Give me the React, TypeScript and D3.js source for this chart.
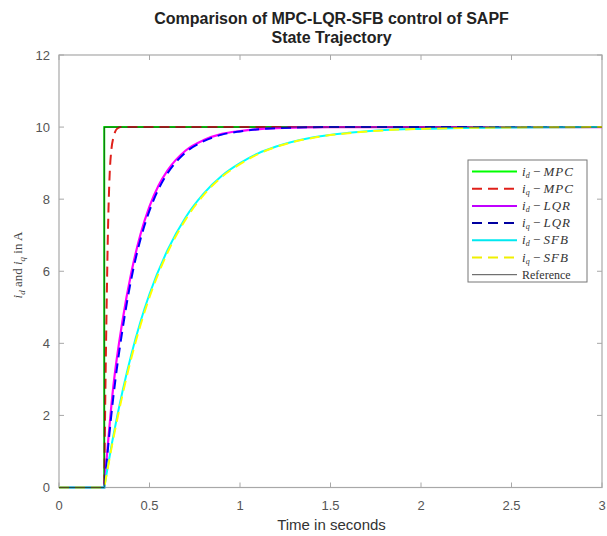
import React from "react";
import * as d3 from "d3";

// ---- data ----
const xTickVals = [0, 0.5, 1, 1.5, 2, 2.5, 3];
const xTickLabels = ["0", "0.5", "1", "1.5", "2", "2.5", "3"];
const yTickVals = [0, 2, 4, 6, 8, 10, 12];
const yTickLabels = ["0", "2", "4", "6", "8", "10", "12"];

const tStep = [0, 0.25, 0.25, 3];
const idMPC = [0, 0, 10, 10];
const refVals = [0, 0, 10, 10];

const tIqMPC = [0, 0.25, 0.255, 0.26, 0.265, 0.27, 0.275, 0.28, 0.29, 0.3, 0.31, 0.32, 0.34, 3];
const iqMPC = [0, 0, 2.2, 4.0, 5.6, 7.0, 8.0, 8.7, 9.4, 9.7, 9.87, 9.95, 10, 10];

const tLQR = [0, 0.25, 0.3, 0.35, 0.4, 0.45, 0.5, 0.55, 0.6, 0.7, 0.8, 0.9, 1.0, 1.2, 1.5, 3];
const idLQR = [0, 0, 2.8, 4.6, 5.97, 7.02, 7.8, 8.38, 8.8, 9.35, 9.64, 9.81, 9.89, 9.97, 10, 10];
const iqLQR = [0, 0, 2.5, 4.35, 5.8, 6.88, 7.68, 8.28, 8.72, 9.3, 9.61, 9.79, 9.88, 9.97, 10, 10];

const tSFB = [0, 0.25, 0.3, 0.35, 0.4, 0.45, 0.5, 0.6, 0.7, 0.8, 0.9, 1.0, 1.1, 1.2, 1.4, 1.6, 1.8, 2.0, 2.5, 3];
const idSFB = [0, 0, 1.43, 2.65, 3.7, 4.6, 5.37, 6.59, 7.5, 8.16, 8.65, 9.0, 9.27, 9.46, 9.71, 9.84, 9.92, 9.95, 9.99, 10];
const iqSFB = [0, 0, 1.35, 2.55, 3.6, 4.5, 5.28, 6.52, 7.44, 8.12, 8.62, 8.97, 9.25, 9.45, 9.7, 9.83, 9.91, 9.95, 9.99, 10];

const titleLines = ["Comparison of MPC-LQR-SFB control of SAPF", "State Trajectory"];

const L = 59, R = 602, T = 55, B = 487.5;

const x = d3.scaleLinear().domain([0, 3]).range([L, R]);
const y = d3.scaleLinear().domain([0, 12]).range([B, T]);

function pathFor(ts: number[], vs: number[], smooth: boolean): string {
  const pts: [number, number][] = ts.map((t, i) => [x(t), y(vs[i])]);
  if (!smooth) return d3.line()(pts) || "";
  const rise = pts.slice(1);
  const rp = d3.line().curve(d3.curveMonotoneX)(rise) || "";
  return `M${pts[0][0]},${pts[0][1]}L` + rp.slice(1);
}

type S = { ts: number[]; vs: number[]; color: string; dash?: string; smooth: boolean; w: number };
const series: S[] = [
  { ts: tStep, vs: idMPC, color: "#00ff00", smooth: false, w: 2 },
  { ts: tIqMPC, vs: iqMPC, color: "#e0201a", dash: "10,6", smooth: true, w: 2 },
  { ts: tLQR, vs: idLQR, color: "#ff00ff", smooth: true, w: 2.2 },
  { ts: tLQR, vs: iqLQR, color: "#0000ff", dash: "10,6", smooth: true, w: 2 },
  { ts: tSFB, vs: idSFB, color: "#00ffff", smooth: true, w: 2 },
  { ts: tSFB, vs: iqSFB, color: "#ffff00", dash: "10,6", smooth: true, w: 2 },
  { ts: tStep, vs: refVals, color: "#222222", smooth: false, w: 0.8 },
];

const legendItems = [
  { sub: "d", name: "MPC", color: "#00ff00" },
  { sub: "q", name: "MPC", color: "#e0201a", dash: "10,6" },
  { sub: "d", name: "LQR", color: "#c000ff" },
  { sub: "q", name: "LQR", color: "#0000a0", dash: "10,6" },
  { sub: "d", name: "SFB", color: "#00e8f0" },
  { sub: "q", name: "SFB", color: "#f0f000", dash: "10,6" },
];

const serif = "'Liberation Serif', 'DejaVu Serif', serif";
const sans = "'Liberation Sans', Arial, sans-serif";

export default function App() {
  const lx0 = 468, ly0 = 160, lw = 119, lh = 122;
  const rowY = (i: number) => 171.5 + i * 17.2;
  return (
    <svg width={607} height={536} style={{ position: "absolute", left: 0, top: 0, background: "#fff" }}>
      <rect x={0} y={0} width={607} height={536} fill="#fff" />
      {/* title */}
      {titleLines.map((t, i) => (
        <text key={i} x={(L + R) / 2 + 1} y={24 + i * 19} textAnchor="middle" fontFamily={sans} fontWeight="bold" fontSize={16} fill="#222">
          {t}
        </text>
      ))}
      {/* plot box */}
      <rect x={L} y={T} width={R - L} height={B - T} fill="#fff" stroke="#a8a8a8" strokeWidth={1.2} />
      {/* ticks */}
      {xTickVals.map((v, i) => (
        <g key={"x" + i}>
          <line x1={x(v)} x2={x(v)} y1={B} y2={B - 5} stroke="#a8a8a8" />
          <line x1={x(v)} x2={x(v)} y1={T} y2={T + 5} stroke="#a8a8a8" />
          <text x={x(v)} y={510} textAnchor="middle" fontFamily={sans} fontSize={13} fill="#555">
            {xTickLabels[i]}
          </text>
        </g>
      ))}
      {yTickVals.map((v, i) => (
        <g key={"y" + i}>
          <line x1={L} x2={L + 5} y1={y(v)} y2={y(v)} stroke="#a8a8a8" />
          <line x1={R} x2={R - 5} y1={y(v)} y2={y(v)} stroke="#a8a8a8" />
          <text x={50} y={y(v) + 4.5} textAnchor="end" fontFamily={sans} fontSize={13} fill="#555">
            {yTickLabels[i]}
          </text>
        </g>
      ))}
      {/* axis labels */}
      <text x={(L + R) / 2 + 1} y={530} textAnchor="middle" fontFamily={sans} fontSize={15} fill="#333">
        Time in seconds
      </text>
      <text transform="translate(22,265) rotate(-90)" textAnchor="middle" fontFamily={serif} fontSize={13} fill="#444">
        <tspan fontStyle="italic">i</tspan>
        <tspan fontSize={9} fontStyle="italic" dy={3}>d</tspan>
        <tspan dy={-3}> and </tspan>
        <tspan fontStyle="italic">i</tspan>
        <tspan fontSize={9} fontStyle="italic" dy={3}>q</tspan>
        <tspan dy={-3}> in A</tspan>
      </text>
      {/* series */}
      <g clipPath="url(#clip)">
        {series.map((s, i) => (
          <path key={i} d={pathFor(s.ts, s.vs, s.smooth)} fill="none" stroke={s.color} strokeWidth={s.w} strokeDasharray={s.dash} />
        ))}
      </g>
      <defs>
        <clipPath id="clip">
          <rect x={L - 2} y={T} width={R - L + 4} height={B - T + 2} />
        </clipPath>
      </defs>
      {/* legend */}
      <rect x={lx0} y={ly0} width={lw} height={lh} fill="#fff" stroke="#777" strokeWidth={1} />
      {legendItems.map((it, i) => (
        <g key={i}>
          <line x1={472} x2={517} y1={rowY(i)} y2={rowY(i)} stroke={it.color} strokeWidth={2} strokeDasharray={it.dash} />
          <text x={522} y={rowY(i) + 4} fontFamily={serif} fontSize={13} fill="#333">
            <tspan fontStyle="italic">i</tspan>
            <tspan fontSize={8} fontStyle="italic" dy={2}>{it.sub}</tspan>
            <tspan dy={-2}> − </tspan>
            <tspan fontStyle="italic" letterSpacing={1}>{it.name}</tspan>
          </text>
        </g>
      ))}
      <line x1={472} x2={517} y1={rowY(6)} y2={rowY(6)} stroke="#222" strokeWidth={0.8} />
      <text x={522} y={rowY(6) + 4} fontFamily={serif} fontSize={12} fill="#333">
        Reference
      </text>
    </svg>
  );
}
